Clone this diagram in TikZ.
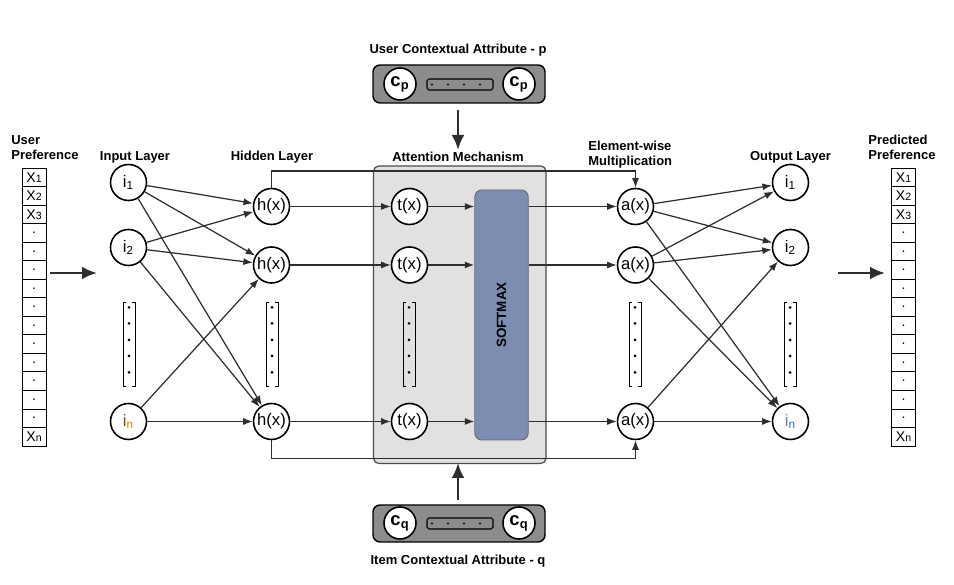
\documentclass[tikz,border=0pt]{standalone}
\usepackage{fontspec}
\setmainfont{Liberation Sans}
\usetikzlibrary{arrows.meta}

\definecolor{ctxgray}{HTML}{8C8C8C}
\definecolor{attgray}{HTML}{E1E1E1}
\definecolor{smblue}{HTML}{7D8DB2}
\definecolor{linegray}{HTML}{2E2E2E}
\definecolor{inbrown}{HTML}{7A4A10}
\definecolor{inorange}{HTML}{E07800}
\definecolor{outgray}{HTML}{6A7F9A}
\definecolor{outblue}{HTML}{1F6FC8}

\tikzset{
  neuron/.style={circle,draw=black,line width=0.9pt,fill=white,minimum size=0.72cm,inner sep=0pt,font=\fontsize{9.5}{10}\selectfont},
  ctxnode/.style={circle,draw=black,line width=0.9pt,fill=white,minimum size=0.64cm,inner sep=0pt,font=\bfseries\fontsize{10.5}{11}\selectfont},
  layerlabel/.style={font=\bfseries\fontsize{7.4}{8.6}\selectfont,inner sep=0pt},
  cell/.style={draw=black,line width=0.5pt,fill=white,minimum width=0.48cm,minimum height=0.3707cm,inner sep=0pt,font=\fontsize{8}{8}\selectfont},
  conn/.style={draw=linegray,line width=0.7pt,-{Latex[length=1.9mm,width=1.4mm]}},
  bigarrow/.style={draw=linegray,line width=1.6pt,-{Latex[length=3mm,width=2.6mm]}}
}

\begin{document}
\begin{tikzpicture}
\useasboundingbox (0,0) rectangle (19.08,11.7);
%\draw[step=0.5cm,gray,very thin] (0,0) grid (19,11.5);

% attention box
\draw[rounded corners=3pt, line width=0.7pt, draw=black!70, fill=attgray] (7.47,2.43) rectangle (10.92,8.38);
\node[draw=black!60, line width=0.5pt, fill=smblue, rounded corners=4pt, minimum width=1.07cm, minimum height=5cm, inner sep=0pt] (sm) at (10.03,5.4) {};
\node[rotate=90, font=\bfseries\fontsize{7.6}{9}\selectfont] at (sm.center) {SOFTMAX};

% labels
\node[layerlabel, anchor=west] at (0.22,8.9) {User};
\node[layerlabel, anchor=west] at (0.22,8.6) {Preference};
\node[layerlabel] at (2.7,8.56) {Input Layer};
\node[layerlabel] at (5.44,8.56) {Hidden Layer};
\node[layerlabel] at (9.16,8.56) {Attention Mechanism};
\node[layerlabel, anchor=west] at (11.76,8.78) {Element-wise};
\node[layerlabel, anchor=west] at (11.76,8.46) {Multiplication};
\node[layerlabel] at (15.81,8.56) {Output Layer};
\node[layerlabel, anchor=west] at (17.36,8.9) {Predicted};
\node[layerlabel, anchor=west] at (17.36,8.6) {Preference};

% preference vectors
\foreach \k/\txt in {1/X{\fontsize{6}{6}\selectfont 1},2/X{\fontsize{6}{6}\selectfont 2},3/X{\fontsize{6}{6}\selectfont 3},4/.,5/.,6/.,7/.,8/.,9/.,10/.,11/.,12/.,13/.,14/.,15/X{\fontsize{6}{6}\selectfont n}} {
  \node[cell] (u\k) at (0.68,8.34-0.3707*\k+0.1853) {\txt};
  \node[cell] (p\k) at (18.07,8.34-0.3707*\k+0.1853) {\txt};
}

% input layer
\node[neuron] (in1) at (2.57,8.05) {i\textsubscript{1}};
\node[neuron] (in2) at (2.57,6.75) {i\textsubscript{2}};
\node[neuron] (inn) at (2.57,3.27) {\textcolor{inbrown}{i}\textsubscript{\textcolor{inorange}{n}}};

% hidden layer
\node[neuron] (h1) at (5.43,7.57) {h(x)};
\node[neuron] (h2) at (5.43,6.4) {h(x)};
\node[neuron] (hn) at (5.43,3.27) {h(x)};

% attention
\node[neuron] (t1) at (8.19,7.57) {t(x)};
\node[neuron] (t2) at (8.19,6.4) {t(x)};
\node[neuron] (tn) at (8.19,3.27) {t(x)};

% element-wise
\node[neuron] (a1) at (12.71,7.57) {a(x)};
\node[neuron] (a2) at (12.71,6.4) {a(x)};
\node[neuron] (an) at (12.71,3.27) {a(x)};

% output layer
\node[neuron] (o1) at (15.81,8.05) {i\textsubscript{1}};
\node[neuron] (o2) at (15.81,6.75) {i\textsubscript{2}};
\node[neuron] (on) at (15.81,3.27) {\textcolor{outgray}{i}\textsubscript{\textcolor{outblue}{n}}};

% vertical dots
\foreach \x in {2.58,5.44,8.18,12.7,15.8} {
  \draw[line width=0.5pt] (\x-0.06,5.646) -- (\x-0.12,5.646) -- (\x-0.12,3.98) -- (\x-0.06,3.98);
  \draw[line width=0.5pt] (\x+0.06,5.646) -- (\x+0.12,5.646) -- (\x+0.12,3.98) -- (\x+0.06,3.98);
  \foreach \y in {5.55,5.23,4.9,4.58,4.25} \fill (\x,\y) circle (0.03);
}

% input -> hidden
\foreach \s/\d in {in1/h1,in1/h2,in1/hn,in2/h1,in2/h2,in2/hn,inn/h2,inn/hn}
  \draw[conn] (\s) -- (\d);

% hidden -> attention -> softmax -> element-wise
\foreach \k in {1,2,n} {
  \draw[conn] (h\k) -- (t\k);
  \draw[conn] (t\k) -- (t\k -| sm.west);
  \draw[conn] (t\k -| sm.east) -- (a\k);
}

% skip connections
\coordinate (topl) at (9.2,8.28);
\coordinate (botl) at (9.2,2.53);
\draw[conn] (h1.north) |- (topl) -| (a1.north);
\draw[conn] (hn.south) |- (botl) -| (an.south);

% element-wise -> output
\foreach \s/\d in {a1/o1,a1/o2,a1/on,a2/o1,a2/o2,a2/on,an/o2,an/on}
  \draw[conn] (\s) -- (\d);

% in / out arrows
\coordinate (lin) at (1.0,6.24);
\coordinate (lout) at (1.94,6.24);
\coordinate (rin) at (16.76,6.24);
\coordinate (rout) at (17.7,6.24);
\draw[bigarrow] (lin) -- (lout);
\draw[bigarrow] (rin) -- (rout);

% user contextual attribute
\node[layerlabel] at (9.16,10.7) {User Contextual Attribute - p};
\draw[rounded corners=4pt, line width=0.8pt, fill=ctxgray] (7.46,9.64) rectangle (10.9,10.4);
\node[ctxnode] (cp1) at (8.0,10.02) {c\textsubscript{p}};
\node[ctxnode] (cp2) at (10.38,10.02) {c\textsubscript{p}};
\draw[line width=0.6pt, rounded corners=1pt] (8.54,9.9) rectangle (9.86,10.12);
\foreach \x in {8.64,8.96,9.28,9.6} \fill (\x,10.01) circle (0.024);
\coordinate (ptop) at (9.16,9.5);
\coordinate (pbot) at (9.16,8.7);
\draw[bigarrow] (ptop) -- (pbot);

% item contextual attribute
\node[layerlabel] at (9.16,0.47) {Item Contextual Attribute - q};
\draw[rounded corners=4pt, line width=0.8pt, fill=ctxgray] (7.46,0.86) rectangle (10.9,1.6);
\node[ctxnode] (cq1) at (8.0,1.24) {c\textsubscript{q}};
\node[ctxnode] (cq2) at (10.38,1.24) {c\textsubscript{q}};
\draw[line width=0.6pt, rounded corners=1pt] (8.54,1.12) rectangle (9.86,1.34);
\foreach \x in {8.64,8.96,9.28,9.6} \fill (\x,1.23) circle (0.024);
\coordinate (qbot) at (9.16,1.7);
\coordinate (qtop) at (9.16,2.44);
\draw[bigarrow] (qbot) -- (qtop);

\end{tikzpicture}
\end{document}
